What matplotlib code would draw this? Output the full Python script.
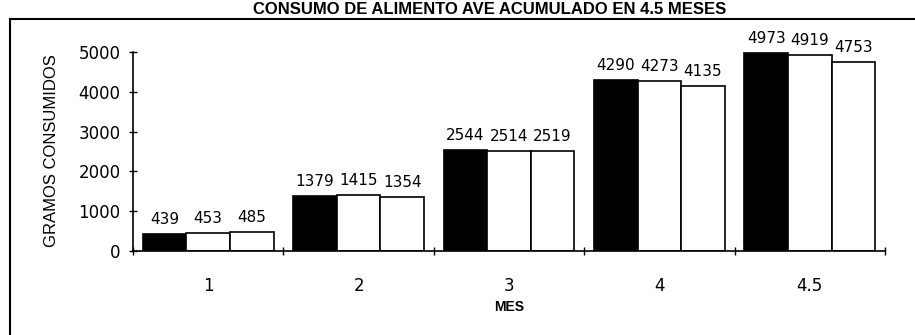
import numpy as np
import matplotlib.pyplot as plt
from matplotlib.lines import Line2D

# data
meses = ['1', '2', '3', '4', '4.5']
serie_a = [439, 1379, 2544, 4290, 4973]
serie_b = [453, 1415, 2514, 4273, 4919]
serie_c = [485, 1354, 2519, 4135, 4753]

fig = plt.figure(figsize=(9.15, 3.35), dpi=100)
ax = fig.add_axes([133 / 915, 1 - 251 / 335, 752 / 915, 199 / 335])

x = np.arange(len(meses))
w = 0.29
series = [serie_a, serie_b, serie_c]
colors = ['black', 'white', 'white']
for i, (vals, c) in enumerate(zip(series, colors)):
    pos = x + (i - 1) * w
    ax.bar(pos, vals, width=w, color=c, edgecolor='black', linewidth=1.2)
    for p, v in zip(pos, vals):
        ax.annotate(str(v), (p, v), xytext=(0, 5), textcoords='offset points',
                    ha='center', va='bottom', fontsize=11, family='DejaVu Sans',
                    annotation_clip=False)

ax.set_xlim(-0.5, len(meses) - 0.5)
ax.set_ylim(0, 5000)
ax.set_yticks([0, 1000, 2000, 3000, 4000, 5000])
ax.set_xticks(x)
ax.set_xticklabels(meses)
ax.set_xticks(np.arange(len(meses) + 1) - 0.5, minor=True)
ax.tick_params(axis='x', which='major', length=0, pad=19, labelsize=12)
ax.tick_params(axis='x', which='minor', direction='inout', length=6, width=1)
ax.tick_params(axis='y', direction='inout', length=6, width=1, pad=6, labelsize=12)
for lab in ax.get_xticklabels() + ax.get_yticklabels():
    lab.set_family('DejaVu Sans')

for s in ['top', 'right']:
    ax.spines[s].set_visible(False)
for s in ['left', 'bottom']:
    ax.spines[s].set_linewidth(1.2)

fig.text(52 / 915, 1 - 151 / 335, 'GRAMOS CONSUMIDOS', rotation=90,
         ha='center', va='center', fontsize=12, family='Liberation Sans')
fig.text(509 / 915, 1 - 307 / 335, 'MES', ha='center', va='center',
         fontsize=10, fontweight='bold', family='Liberation Sans')

# title sits just above the frame
fig.text(490 / 915, 1 - 9 / 335, 'CONSUMO DE ALIMENTO AVE ACUMULADO EN 4.5 MESES',
         ha='center', va='center', fontsize=12, fontweight='bold',
         family='Liberation Sans')

# outer frame (only top and left edges fall inside the picture)
fig.add_artist(Line2D([10 / 915, 1.0], [1 - 19 / 335, 1 - 19 / 335],
                      transform=fig.transFigure, color='black', linewidth=1.5))
fig.add_artist(Line2D([10 / 915, 10 / 915], [0, 1 - 19 / 335],
                      transform=fig.transFigure, color='black', linewidth=1.5))

fig.savefig('out.png', dpi=100)
